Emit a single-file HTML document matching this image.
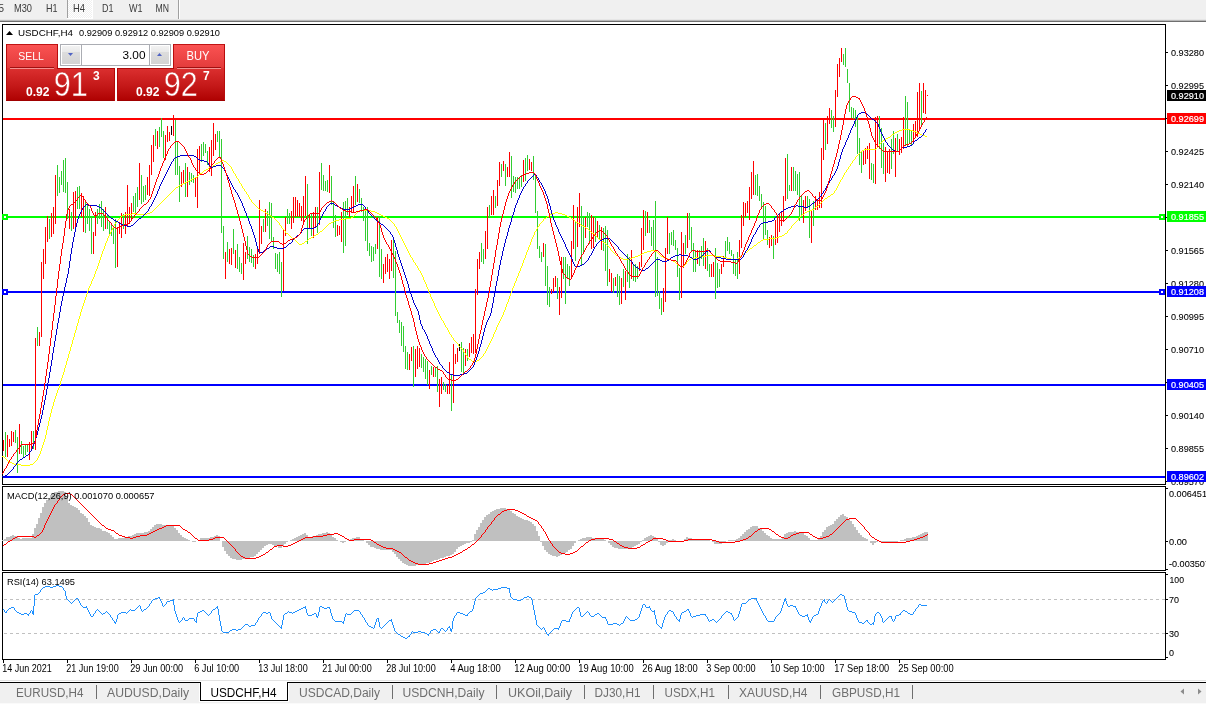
<!DOCTYPE html>
<html lang="en"><head><meta charset="utf-8"><title>USDCHF,H4</title>
<style>
html,body{margin:0;padding:0;background:#fff;}
body{width:1206px;height:704px;overflow:hidden;position:relative;font-family:"Liberation Sans",sans-serif;}
svg{position:absolute;left:0;top:0;display:block;}
text{font-family:"Liberation Sans",sans-serif;}
.t10{font-size:9.8px;fill:#000;}
.tb{font-size:10.4px;fill:#3a3a3a;}
.ax{font-size:9.4px;fill:#000;stroke:#000;stroke-width:0.08px;}
.axw{font-size:9.4px;fill:#fff;stroke:#fff;stroke-width:0.2px;}
.tab{font-size:12.5px;fill:#6e6e6e;}
.tabA{font-size:12.5px;fill:#000;}
</style></head><body>
<svg width="1206" height="704" viewBox="0 0 1206 704">
<defs>
<linearGradient id="gTab" x1="0" y1="0" x2="0" y2="1"><stop offset="0" stop-color="#fb5353"/><stop offset="1" stop-color="#e23a3a"/></linearGradient>
<linearGradient id="gLow" x1="0" y1="0" x2="0" y2="1"><stop offset="0" stop-color="#dc3030"/><stop offset="0.55" stop-color="#c41818"/><stop offset="1" stop-color="#ae0000"/></linearGradient>
<linearGradient id="gBtn" x1="0" y1="0" x2="0" y2="1"><stop offset="0" stop-color="#f2f2f2"/><stop offset="0.33" stop-color="#e9e9e9"/><stop offset="0.34" stop-color="#dddddd"/><stop offset="1" stop-color="#d3d3d3"/></linearGradient>
<pattern id="chk" width="2" height="2" patternUnits="userSpaceOnUse"><rect width="2" height="2" fill="#f0f0f0"/><rect width="1" height="1" fill="#fff"/><rect x="1" y="1" width="1" height="1" fill="#fff"/></pattern>
</defs>
<g shape-rendering="crispEdges">
<rect x="0" y="0" width="1206" height="20" fill="#f0f0f0"/>
<rect x="0" y="19" width="1206" height="1" fill="#e6e6e6"/>
<rect x="0" y="20" width="1206" height="1" fill="#b9b9b9"/>
<rect x="0" y="21" width="1206" height="1" fill="#6f6f6f"/>
<rect x="68" y="0" width="24" height="18" fill="url(#chk)"/>
<rect x="67" y="0" width="1" height="18" fill="#a0a0a0"/>
<rect x="92" y="0" width="1" height="19" fill="#fff"/>
<rect x="67" y="18" width="26" height="1" fill="#fff"/>
<rect x="178" y="0" width="1" height="19" fill="#a0a0a0"/>
<rect x="179" y="0" width="1" height="19" fill="#fff"/>
</g>
<text class="tb" x="-1.5" y="12" textLength="5.5" lengthAdjust="spacingAndGlyphs">5</text>
<text class="tb" x="14" y="12" textLength="18" lengthAdjust="spacingAndGlyphs">M30</text>
<text class="tb" x="46" y="12" textLength="11.5" lengthAdjust="spacingAndGlyphs">H1</text>
<text class="tb" x="73" y="12" textLength="12" lengthAdjust="spacingAndGlyphs">H4</text>
<text class="tb" x="102" y="12" textLength="11.5" lengthAdjust="spacingAndGlyphs">D1</text>
<text class="tb" x="129" y="12" textLength="13.5" lengthAdjust="spacingAndGlyphs">W1</text>
<text class="tb" x="155.5" y="12" textLength="13.5" lengthAdjust="spacingAndGlyphs">MN</text>
<g shape-rendering="crispEdges" fill="#000">
<rect x="2" y="24" width="1164" height="1"/>
<rect x="2" y="24" width="1" height="461"/>
<rect x="2" y="484" width="1164" height="1"/>
<rect x="1165" y="24" width="1" height="461"/>
<rect x="2" y="486" width="1164" height="1"/>
<rect x="2" y="486" width="1" height="85"/>
<rect x="2" y="570" width="1164" height="1"/>
<rect x="1165" y="486" width="1" height="85"/>
<rect x="2" y="572" width="1164" height="1"/>
<rect x="2" y="572" width="1" height="88"/>
<rect x="2" y="659" width="1164" height="1"/>
<rect x="1165" y="572" width="1" height="88"/>
<rect x="1166" y="52" width="2" height="1"/>
<rect x="1166" y="85" width="2" height="1"/>
<rect x="1166" y="118" width="2" height="1"/>
<rect x="1166" y="151" width="2" height="1"/>
<rect x="1166" y="184" width="2" height="1"/>
<rect x="1166" y="217" width="2" height="1"/>
<rect x="1166" y="250" width="2" height="1"/>
<rect x="1166" y="283" width="2" height="1"/>
<rect x="1166" y="316" width="2" height="1"/>
<rect x="1166" y="349" width="2" height="1"/>
<rect x="1166" y="382" width="2" height="1"/>
<rect x="1166" y="415" width="2" height="1"/>
<rect x="1166" y="448" width="2" height="1"/>
<rect x="1166" y="481" width="2" height="1"/>
<rect x="1166" y="488" width="2" height="1"/>
<rect x="1166" y="541" width="2" height="1"/>
<rect x="1166" y="569" width="2" height="1"/>
<rect x="1166" y="574" width="2" height="1"/>
<rect x="1166" y="599" width="2" height="1"/>
<rect x="1166" y="633" width="2" height="1"/>
<rect x="1166" y="657" width="2" height="1"/>
<rect x="3" y="660" width="1" height="3"/>
<rect x="67" y="660" width="1" height="3"/>
<rect x="131" y="660" width="1" height="3"/>
<rect x="195" y="660" width="1" height="3"/>
<rect x="259" y="660" width="1" height="3"/>
<rect x="323" y="660" width="1" height="3"/>
<rect x="387" y="660" width="1" height="3"/>
<rect x="451" y="660" width="1" height="3"/>
<rect x="515" y="660" width="1" height="3"/>
<rect x="579" y="660" width="1" height="3"/>
<rect x="643" y="660" width="1" height="3"/>
<rect x="707" y="660" width="1" height="3"/>
<rect x="771" y="660" width="1" height="3"/>
<rect x="835" y="660" width="1" height="3"/>
<rect x="899" y="660" width="1" height="3"/>
</g>
<g shape-rendering="crispEdges" stroke="#c0c0c0" stroke-width="1" stroke-dasharray="3 3">
<line x1="4" y1="599.5" x2="1165" y2="599.5"/><line x1="4" y1="633.5" x2="1165" y2="633.5"/>
</g>
<g shape-rendering="crispEdges">
<rect x="3" y="118" width="1162" height="2" fill="#ff0000"/>
<rect x="3" y="216" width="1162" height="2" fill="#00ff00"/>
<rect x="2" y="214" width="6" height="6" fill="#00ff00"/><rect x="4" y="216" width="2" height="2" fill="#fff"/>
<rect x="1159" y="214" width="6" height="6" fill="#00ff00"/><rect x="1161" y="216" width="2" height="2" fill="#fff"/>
<rect x="3" y="291" width="1162" height="2" fill="#0000ff"/>
<rect x="2" y="289" width="6" height="6" fill="#0000ff"/><rect x="4" y="291" width="2" height="2" fill="#fff"/>
<rect x="1159" y="289" width="6" height="6" fill="#0000ff"/><rect x="1161" y="291" width="2" height="2" fill="#fff"/>
<rect x="3" y="384" width="1162" height="2" fill="#0000ff"/>
<rect x="3" y="476" width="1162" height="2" fill="#0000ff"/>
</g>
<g shape-rendering="crispEdges" fill="none" stroke-width="1">
<path stroke="#ff0000" d="M3.5 440V451M7.5 435V457M9.5 439V447M11.5 431V446M13.5 432V442M19.5 424V454M29.5 442V460M31.5 431V449M35.5 338V450M39.5 332V346M41.5 262V337M43.5 249V279M45.5 227V264M47.5 216V242M51.5 213V237M53.5 207V234M55.5 175V224M69.5 209V229M73.5 192V229M75.5 191V227M81.5 193V217M83.5 196V232M93.5 232V254M95.5 212V236M105.5 207V229M117.5 228V267M119.5 222V234M121.5 213V238M125.5 212V234M127.5 185V226M129.5 207V224M131.5 203V219M139.5 163V200M147.5 177V195M149.5 165V196M151.5 145V175M153.5 135V162M157.5 131V149M165.5 135V160M167.5 126V142M169.5 132V141M173.5 115V136M181.5 172V187M183.5 170V183M187.5 167V197M195.5 177V197M197.5 149V208M199.5 146V175M209.5 147V172M211.5 140V176M213.5 123V156M215.5 134V150M225.5 252V279M229.5 249V264M231.5 248V265M235.5 250V268M243.5 243V280M245.5 252V264M255.5 254V269M257.5 249V264M259.5 200V254M261.5 226V244M265.5 209V232M283.5 229V291M285.5 217V236M291.5 211V229M293.5 197V223M295.5 197V217M297.5 200V217M299.5 203V217M301.5 206V221M303.5 196V225M305.5 176V216M309.5 215V228M313.5 212V238M315.5 207V227M319.5 172V225M329.5 165V193M337.5 225V236M339.5 226V235M341.5 212V242M349.5 207V217M351.5 196V212M353.5 186V213M357.5 184V202M377.5 217V249M383.5 264V283M385.5 257V274M387.5 254V272M389.5 259V279M391.5 240V271M409.5 354V370M411.5 347V361M415.5 349V377M417.5 346V369M419.5 348V367M429.5 370V389M433.5 367V377M439.5 379V407M441.5 377V394M447.5 385V394M449.5 362V394M453.5 344V403M455.5 354V364M457.5 348V362M465.5 349V366M469.5 343V357M471.5 337V353M473.5 334V354M475.5 289V353M477.5 259V295M479.5 252V269M485.5 231V259M487.5 207V249M491.5 196V215M493.5 190V215M497.5 180V206M499.5 162V186M503.5 161V171M507.5 167V177M509.5 152V177M523.5 160V182M529.5 159V170M531.5 162V171M543.5 243V257M551.5 289V294M553.5 278V292M555.5 276V287M559.5 287V315M561.5 257V298M571.5 241V279M573.5 205V249M577.5 207V247M579.5 193V227M585.5 217V238M591.5 215V249M593.5 217V248M597.5 221V238M601.5 227V250M609.5 269V282M611.5 273V292M615.5 277V286M621.5 278V304M625.5 271V300M631.5 250V279M639.5 262V271M641.5 228V267M643.5 210V250M647.5 212V233M663.5 288V312M665.5 248V302M667.5 217V254M681.5 232V298M683.5 243V268M687.5 213V248M697.5 250V264M705.5 241V269M711.5 264V277M713.5 262V277M721.5 264V274M723.5 256V267M739.5 240V274M741.5 215V248M743.5 202V226M745.5 203V217M747.5 201V213M749.5 187V220M751.5 172V199M753.5 161V195M769.5 237V248M771.5 235V246M775.5 220V245M777.5 217V243M779.5 213V232M781.5 212V226M783.5 196V222M785.5 158V201M791.5 167V191M803.5 200V223M805.5 196V211M811.5 210V243M815.5 196V210M817.5 199V210M819.5 192V208M821.5 148V208M823.5 119V160M827.5 116V144M829.5 108V124M835.5 90V127M837.5 64V97M839.5 58V77M841.5 48V62M863.5 150V165M865.5 148V164M867.5 146V159M869.5 143V179M875.5 117V184M877.5 116V147M885.5 147V182M887.5 152V173M889.5 149V174M895.5 138V177M899.5 139V155M901.5 137V153M903.5 117V149M913.5 124V142M915.5 121V138M917.5 92V137M919.5 83V129M923.5 83V113M925.5 90V114M927.5 95V96"/>
<path stroke="#32cd32" d="M5.5 432V457M15.5 430V443M17.5 437V473M21.5 441V454M23.5 446V457M25.5 445V455M27.5 445V452M33.5 431V449M37.5 327V346M49.5 219V239M57.5 165V196M59.5 177V193M61.5 171V185M63.5 160V192M65.5 158V193M67.5 182V219M71.5 212V231M77.5 187V209M79.5 186V209M85.5 200V233M87.5 204V224M89.5 209V231M91.5 217V254M97.5 209V224M99.5 204V219M101.5 201V227M103.5 209V231M107.5 214V229M109.5 222V234M111.5 224V236M113.5 226V244M115.5 219V268M123.5 214V229M133.5 196V212M135.5 193V213M137.5 187V207M141.5 175V204M143.5 186V202M145.5 185V200M155.5 129V146M159.5 127V147M161.5 118V137M163.5 131V158M175.5 120V175M177.5 141V175M179.5 166V202M185.5 163V197M189.5 172V185M191.5 173V182M193.5 175V183M201.5 144V162M203.5 142V156M205.5 144V153M207.5 151V165M217.5 131V142M219.5 131V158M221.5 139V233M223.5 226V259M227.5 242V262M233.5 229V254M237.5 244V269M239.5 257V272M241.5 263V274M247.5 236V259M249.5 247V262M251.5 249V263M253.5 255V267M263.5 219V232M267.5 211V226M269.5 202V239M271.5 203V242M273.5 237V249M275.5 253V269M277.5 254V272M279.5 252V274M281.5 262V297M287.5 209V224M289.5 213V224M307.5 184V244M311.5 213V236M317.5 207V233M321.5 163V190M323.5 175V191M325.5 181V191M327.5 180V192M331.5 176V205M333.5 201V228M335.5 215V237M343.5 202V253M345.5 201V246M347.5 198V215M355.5 176V205M359.5 189V203M361.5 198V212M363.5 207V221M365.5 208V241M367.5 207V251M369.5 243V256M371.5 246V262M373.5 247V261M375.5 244V254M379.5 216V277M381.5 249V279M393.5 240V278M395.5 251V316M397.5 312V323M399.5 320V333M401.5 322V346M403.5 326V352M405.5 346V369M407.5 352V370M413.5 346V387M421.5 354V368M423.5 357V372M425.5 359V379M427.5 361V385M431.5 366V375M435.5 368V377M437.5 366V392M443.5 382V390M445.5 384V392M451.5 374V411M461.5 342V372M463.5 348V373M467.5 349V361M481.5 243V262M483.5 249V264M489.5 205V217M495.5 196V208M501.5 164V177M505.5 164V186M511.5 156V198M513.5 176V192M515.5 177V193M517.5 177V189M519.5 177V189M521.5 175V187M525.5 158V181M527.5 155V171M533.5 156V180M535.5 175V213M537.5 211V249M539.5 246V258M541.5 252V262M545.5 244V286M547.5 266V305M549.5 287V307M557.5 278V299M563.5 257V279M565.5 257V304M567.5 264V279M569.5 266V286M575.5 222V261M581.5 206V266M583.5 218V253M587.5 212V227M589.5 213V244M595.5 217V242M599.5 225V240M603.5 228V251M605.5 226V271M607.5 230V286M613.5 278V293M617.5 274V297M619.5 276V305M623.5 269V287M627.5 254V282M629.5 257V288M633.5 264V281M635.5 264V282M637.5 266V279M645.5 211V236M649.5 220V233M651.5 227V246M653.5 220V250M655.5 201V297M657.5 257V296M659.5 291V309M661.5 298V315M669.5 233V254M671.5 232V245M673.5 230V246M675.5 240V250M677.5 248V277M679.5 268V300M685.5 235V254M689.5 213V240M691.5 227V251M693.5 243V272M695.5 250V272M699.5 250V266M701.5 246V259M703.5 238V266M707.5 248V271M709.5 264V277M715.5 248V299M717.5 263V288M719.5 269V287M725.5 241V258M727.5 237V251M729.5 242V254M731.5 250V256M733.5 254V274M735.5 259V276M737.5 252V279M755.5 175V195M757.5 174V196M759.5 186V201M761.5 194V208M763.5 202V240M765.5 206V235M767.5 230V245M773.5 236V259M787.5 154V199M789.5 185V191M793.5 167V191M795.5 171V191M797.5 174V195M799.5 172V221M801.5 196V217M807.5 196V208M809.5 199V238M813.5 201V226M825.5 123V150M831.5 110V128M833.5 116V132M843.5 54V65M845.5 48V67M847.5 69V83M849.5 83V112M851.5 107V118M853.5 108V119M855.5 110V127M857.5 116V154M859.5 138V165M861.5 152V173M871.5 163V180M873.5 164V183M879.5 116V149M881.5 128V168M883.5 143V174M891.5 139V169M893.5 131V154M897.5 134V152M905.5 96V146M907.5 102V147M909.5 129V144M911.5 131V146M921.5 91V126"/>
<path stroke="#000000" d="M171.5 126V135M459.5 344V351"/>
</g>
<g shape-rendering="crispEdges" fill="none" stroke-width="1">
<path stroke="#ffff00" d="M2 456.5H4M4.5 457V458M5.5 458V459M6.5 459V460M7.5 460V461M8.5 461V462M9 462.5H12M12 463.5H14M14 464.5H21M21 465.5H30M30 464.5H33M33.5 463V464M34.5 462V463M35.5 461V462M36.5 460V461M37.5 458V460M38.5 456V458M39.5 454V456M40.5 451V454M41.5 448V451M42.5 445V448M43.5 442V445M44.5 439V442M45.5 435V439M46.5 430V435M47.5 426V430M48.5 421V426M49.5 417V421M50.5 413V417M51.5 409V413M52.5 406V409M53.5 402V406M54.5 399V402M55.5 396V399M56.5 393V396M57.5 390V393M58.5 388V390M59.5 385V388M60.5 381V385M61.5 378V381M62.5 375V378M63.5 372V375M64.5 368V372M65.5 365V368M66.5 361V365M67.5 358V361M68.5 354V358M69.5 351V354M70.5 347V351M71.5 344V347M72.5 340V344M73.5 337V340M74.5 333V337M75.5 330V333M76.5 326V330M77.5 323V326M78.5 319V323M79.5 316V319M80.5 312V316M81.5 309V312M82.5 306V309M83.5 303V306M84.5 300V303M85.5 297V300M86.5 294V297M87.5 291V294M88.5 288V291M89.5 286V288M90.5 284V286M91.5 281V284M92.5 279V281M93.5 277V279M94.5 274V277M95.5 271V274M96.5 269V271M97.5 266V269M98.5 263V266M99.5 260V263M100.5 257V260M101.5 254V257M102.5 251V254M103.5 249V251M104.5 246V249M105.5 243V246M106.5 241V243M107.5 238V241M108.5 236V238M109.5 234V236M110.5 232V234M111.5 230V232M112.5 228V230M113.5 226V228M114.5 224V226M115.5 223V224M116.5 221V223M117.5 220V221M118.5 219V220M119.5 218V219M120.5 217V218M121.5 216V217M122 215.5H125M125 214.5H132M132 213.5H136M136 214.5H147M147 213.5H150M150 212.5H152M152.5 211V212M153.5 210V211M154.5 209V210M155.5 208V209M156.5 207V208M157.5 206V207M158.5 205V206M159.5 204V205M160.5 203V204M161.5 202V203M162.5 201V202M163.5 200V201M164.5 199V200M165.5 198V199M166.5 197V198M167.5 196V197M168.5 195V196M169.5 194V195M170.5 193V194M171.5 192V193M172.5 191V192M173.5 190V191M174.5 189V190M175.5 188V189M176 187.5H178M178.5 186V187M179 185.5H181M181 184.5H183M183 183.5H185M185 182.5H187M187 181.5H189M189 180.5H191M191 179.5H193M193 178.5H195M195 177.5H197M197.5 176V177M198.5 175V176M199.5 174V175M200 173.5H202M202.5 172V173M203.5 171V172M204 170.5H206M206 169.5H208M208.5 168V169M209 167.5H211M211 166.5H213M213 165.5H215M215.5 164V165M216 163.5H218M218 162.5H220M220 161.5H222M222 160.5H224M224 161.5H226M226.5 162V163M227.5 163V164M228.5 164V165M229.5 165V166M230.5 166V167M231.5 167V169M232.5 169V171M233.5 171V173M234.5 173V174M235.5 174V176M236.5 176V178M237.5 178V179M238.5 179V181M239.5 181V183M240.5 183V184M241.5 184V186M242.5 186V188M243.5 188V189M244.5 189V191M245.5 191V192M246.5 192V194M247.5 194V195M248.5 195V197M249.5 197V199M250.5 199V200M251.5 200V202M252.5 202V203M253.5 203V204M254.5 204V205M255.5 205V206M256.5 206V207M257.5 207V208M258.5 208V209M259 209.5H261M261 210.5H263M263 211.5H265M265.5 212V213M266 213.5H268M268.5 214V215M269 215.5H271M271.5 216V217M272 217.5H274M274.5 218V219M275.5 219V220M276.5 220V221M277.5 221V222M278.5 222V223M279.5 223V225M280.5 225V226M281.5 226V228M282.5 228V229M283.5 229V230M284.5 230V231M285.5 231V233M286 233.5H288M288.5 234V235M289.5 235V236M290.5 236V237M291.5 237V238M292 238.5H294M294.5 239V240M295.5 240V241M296.5 241V242M297.5 242V243M298.5 243V244M299 244.5H302M302 243.5H304M304.5 242V243M305 241.5H307M307.5 240V241M308.5 239V240M309 238.5H311M311 237.5H313M313.5 236V237M314 235.5H316M316 234.5H318M318.5 233V234M319.5 232V233M320 231.5H322M322.5 230V231M323.5 229V230M324.5 228V229M325.5 227V228M326.5 226V227M327.5 225V226M328.5 224V225M329 223.5H331M331 222.5H333M333 221.5H335M335 220.5H339M339 219.5H345M345 218.5H351M351 217.5H353M353.5 216V217M354.5 215V216M355.5 214V215M356.5 213V214M357.5 212V213M358.5 211V212M359 210.5H371M371 211.5H375M375 212.5H377M377 213.5H379M379 214.5H381M381 215.5H383M383 216.5H385M385 217.5H387M387 218.5H389M389.5 219V220M390.5 220V221M391.5 221V222M392.5 222V223M393.5 223V224M394.5 224V226M395.5 226V227M396.5 227V229M397.5 229V231M398.5 231V233M399.5 233V235M400.5 235V237M401.5 237V239M402.5 239V241M403.5 241V243M404.5 243V245M405.5 245V247M406.5 247V249M407.5 249V251M408.5 251V253M409.5 253V255M410.5 255V257M411.5 257V258M412.5 258V260M413.5 260V262M414.5 262V263M415.5 263V265M416.5 265V266M417.5 266V268M418.5 268V270M419.5 270V271M420.5 271V273M421.5 273V275M422.5 275V277M423.5 277V280M424.5 280V282M425.5 282V284M426.5 284V287M427.5 287V289M428.5 289V292M429.5 292V294M430.5 294V297M431.5 297V299M432.5 299V301M433.5 301V303M434.5 303V306M435.5 306V308M436.5 308V310M437.5 310V312M438.5 312V314M439.5 314V316M440.5 316V318M441.5 318V320M442.5 320V321M443.5 321V323M444.5 323V325M445.5 325V327M446.5 327V328M447.5 328V330M448.5 330V332M449.5 332V334M450.5 334V335M451.5 335V337M452.5 337V338M453.5 338V340M454.5 340V341M455.5 341V342M456.5 342V343M457.5 343V344M458.5 344V346M459.5 346V347M460.5 347V348M461.5 348V349M462.5 349V350M463.5 350V352M464.5 352V353M465.5 353V355M466.5 355V356M467.5 356V358M468.5 358V359M469 359.5H471M471.5 360V361M472 361.5H477M477 360.5H479M479.5 359V360M480.5 358V359M481.5 357V358M482.5 356V357M483.5 354V356M484.5 353V354M485.5 351V353M486.5 349V351M487.5 347V349M488.5 345V347M489.5 343V345M490.5 341V343M491.5 339V341M492.5 337V339M493.5 334V337M494.5 332V334M495.5 330V332M496.5 327V330M497.5 325V327M498.5 323V325M499.5 321V323M500.5 319V321M501.5 317V319M502.5 315V317M503.5 312V315M504.5 310V312M505.5 307V310M506.5 304V307M507.5 302V304M508.5 299V302M509.5 296V299M510.5 293V296M511.5 291V293M512.5 288V291M513.5 286V288M514.5 283V286M515.5 281V283M516.5 278V281M517.5 276V278M518.5 273V276M519.5 271V273M520.5 268V271M521.5 266V268M522.5 263V266M523.5 260V263M524.5 258V260M525.5 255V258M526.5 252V255M527.5 250V252M528.5 247V250M529.5 245V247M530.5 242V245M531.5 239V242M532.5 237V239M533.5 235V237M534.5 232V235M535.5 231V232M536.5 229V231M537.5 227V229M538.5 226V227M539.5 224V226M540.5 223V224M541.5 222V223M542.5 221V222M543.5 219V221M544 218.5H546M546.5 217V218M547 216.5H549M549.5 215V216M550 214.5H552M552 213.5H555M555 212.5H558M558 213.5H562M562 214.5H565M565 215.5H567M567 216.5H569M569 217.5H571M571.5 218V219M572 219.5H574M574.5 220V221M575.5 221V222M576 222.5H578M578 223.5H580M580.5 224V225M581 225.5H583M583 226.5H585M585.5 227V228M586 228.5H588M588.5 229V230M589.5 230V231M590.5 231V232M591.5 232V233M592 233.5H594M594.5 234V235M595.5 235V236M596.5 236V237M597.5 237V238M598.5 238V239M599 239.5H601M601.5 240V241M602.5 241V242M603 242.5H605M605.5 243V244M606.5 244V245M607.5 245V246M608.5 246V247M609.5 247V248M610.5 248V250M611.5 250V251M612.5 251V252M613.5 252V253M614.5 253V254M615.5 254V255M616 255.5H618M618.5 256V257M619 257.5H621M621 258.5H623M623 259.5H629M629 258.5H632M632 257.5H635M635 256.5H638M638 255.5H640M640 254.5H642M642 253.5H644M644 252.5H647M647 251.5H651M651 250.5H655M655 251.5H657M657.5 252V253M658.5 253V254M659.5 254V255M660.5 255V256M661 256.5H663M663 257.5H665M665 258.5H668M668 259.5H671M671 260.5H673M673 261.5H675M675.5 262V263M676.5 263V264M677.5 264V265M678 265.5H680M680 266.5H684M684.5 265V266M685.5 264V265M686.5 262V264M687.5 261V262M688.5 260V261M689 259.5H691M691 258.5H695M695 257.5H700M700 256.5H706M706 255.5H715M715 256.5H723M723 257.5H727M727 258.5H731M731 259.5H737M737 258.5H739M739.5 257V258M740.5 256V257M741.5 255V256M742 254.5H744M744.5 253V254M745 252.5H747M747.5 251V252M748.5 250V251M749.5 249V250M750 248.5H752M752.5 247V248M753.5 246V247M754 245.5H756M756.5 244V245M757.5 243V244M758 242.5H760M760.5 241V242M761 240.5H763M763 239.5H769M769 238.5H776M776 237.5H779M779 236.5H782M782 235.5H784M784.5 234V235M785 233.5H787M787.5 231V233M788.5 230V231M789.5 229V230M790.5 228V229M791.5 226V228M792.5 225V226M793.5 224V225M794.5 223V224M795.5 222V223M796.5 221V222M797.5 220V221M798.5 218V220M799.5 217V218M800.5 216V217M801.5 215V216M802 214.5H804M804.5 213V214M805 212.5H807M807 211.5H809M809 210.5H812M812 209.5H814M814.5 208V209M815.5 207V208M816 206.5H818M818.5 205V206M819.5 204V205M820.5 203V204M821.5 202V203M822.5 201V202M823.5 200V201M824.5 199V200M825 198.5H827M827.5 197V198M828 196.5H830M830.5 195V196M831 194.5H833M833.5 193V194M834.5 191V193M835.5 190V191M836.5 188V190M837.5 186V188M838.5 184V186M839.5 182V184M840.5 180V182M841.5 179V180M842.5 177V179M843.5 175V177M844.5 173V175M845.5 172V173M846.5 170V172M847.5 169V170M848.5 167V169M849.5 166V167M850.5 164V166M851.5 163V164M852.5 161V163M853.5 160V161M854.5 159V160M855.5 157V159M856.5 156V157M857.5 155V156M858.5 154V155M859.5 153V154M860.5 152V153M861.5 151V152M862 150.5H864M864 149.5H876M876.5 148V149M877.5 147V148M878.5 146V147M879.5 144V146M880.5 143V144M881.5 142V143M882.5 141V142M883 140.5H885M885.5 139V140M886 138.5H888M888 137.5H890M890.5 136V137M891.5 135V136M892 134.5H894M894.5 133V134M895 132.5H897M897 131.5H899M899 130.5H902M902 129.5H910M910 130.5H913M913 131.5H916M916 132.5H918M918 133.5H920M920 134.5H922M922 135.5H925M925 136.5H927"/>
<path stroke="#0000cd" d="M2 476.5H5M5 475.5H7M7.5 474V475M8.5 473V474M9.5 472V473M10.5 471V472M11.5 470V471M12.5 469V470M13.5 467V469M14.5 466V467M15.5 465V466M16.5 463V465M17.5 462V463M18.5 461V462M19.5 460V461M20 459.5H22M22.5 458V459M23 457.5H25M25.5 456V457M26 455.5H28M28.5 454V455M29.5 452V454M30.5 451V452M31.5 449V451M32.5 446V449M33.5 444V446M34.5 441V444M35.5 438V441M36.5 435V438M37.5 431V435M38.5 427V431M39.5 423V427M40.5 419V423M41.5 415V419M42.5 410V415M43.5 405V410M44.5 400V405M45.5 395V400M46.5 389V395M47.5 383V389M48.5 378V383M49.5 372V378M50.5 366V372M51.5 360V366M52.5 353V360M53.5 347V353M54.5 341V347M55.5 335V341M56.5 329V335M57.5 323V329M58.5 318V323M59.5 312V318M60.5 306V312M61.5 301V306M62.5 296V301M63.5 291V296M64.5 287V291M65.5 283V287M66.5 278V283M67.5 274V278M68.5 268V274M69.5 261V268M70.5 254V261M71.5 248V254M72.5 242V248M73.5 237V242M74.5 232V237M75.5 227V232M76.5 223V227M77.5 219V223M78.5 216V219M79.5 214V216M80.5 212V214M81.5 210V212M82.5 208V210M83.5 207V208M84.5 206V207M85.5 205V206M86 204.5H88M88 205.5H97M97 206.5H99M99 207.5H101M101.5 208V209M102.5 209V210M103.5 210V211M104.5 211V212M105.5 212V213M106.5 213V214M107.5 214V215M108.5 215V216M109.5 216V217M110.5 217V218M111 218.5H113M113.5 219V220M114 220.5H116M116 221.5H118M118.5 222V223M119 223.5H121M121 224.5H123M123 225.5H127M127 226.5H131M131 225.5H133M133.5 224V225M134.5 223V224M135.5 222V223M136.5 221V222M137.5 220V221M138.5 219V220M139 218.5H141M141.5 217V218M142.5 216V217M143.5 215V216M144.5 214V215M145.5 213V214M146.5 212V213M147.5 211V212M148.5 209V211M149.5 207V209M150.5 206V207M151.5 204V206M152.5 202V204M153.5 200V202M154.5 198V200M155.5 196V198M156.5 194V196M157.5 191V194M158.5 189V191M159.5 186V189M160.5 184V186M161.5 182V184M162.5 180V182M163.5 178V180M164.5 176V178M165.5 174V176M166.5 172V174M167.5 170V172M168.5 168V170M169.5 166V168M170.5 164V166M171.5 162V164M172.5 161V162M173.5 159V161M174.5 158V159M175 157.5H177M177 156.5H180M180 155.5H194M194 156.5H196M196.5 157V158M197.5 158V159M198 159.5H200M200 160.5H204M204 161.5H207M207.5 162V163M208.5 163V165M209.5 165V166M210.5 166V167M211 167.5H213M213 166.5H216M216 165.5H221M221.5 166V167M222.5 167V168M223.5 168V169M224.5 169V171M225.5 171V173M226.5 173V175M227.5 175V177M228.5 177V179M229.5 179V181M230.5 181V183M231.5 183V185M232.5 185V187M233.5 187V189M234.5 189V190M235.5 190V192M236.5 192V193M237.5 193V195M238.5 195V197M239.5 197V199M240.5 199V201M241.5 201V203M242.5 203V206M243.5 206V208M244.5 208V211M245.5 211V213M246.5 213V216M247.5 216V218M248.5 218V221M249.5 221V224M250.5 224V226M251.5 226V229M252.5 229V232M253.5 232V235M254.5 235V238M255.5 238V242M256.5 242V246M257.5 246V249M258.5 249V252M259 252.5H263M263.5 251V252M264 250.5H266M266.5 249V250M267 248.5H269M269.5 247V248M270 246.5H274M274 247.5H277M277 248.5H284M284 247.5H286M286.5 246V247M287.5 245V246M288.5 244V245M289 243.5H291M291.5 242V243M292.5 240V242M293.5 239V240M294.5 238V239M295.5 237V238M296.5 236V237M297 235.5H299M299.5 234V235M300.5 233V234M301.5 231V233M302.5 230V231M303.5 229V230M304 228.5H314M314 227.5H316M316.5 226V227M317.5 224V226M318.5 223V224M319.5 220V223M320.5 218V220M321.5 216V218M322.5 214V216M323.5 212V214M324.5 211V212M325.5 209V211M326.5 207V209M327.5 206V207M328.5 205V206M329.5 204V205M330 203.5H334M334.5 204V205M335 205.5H337M337 206.5H339M339 207.5H341M341 208.5H343M343 209.5H350M350 208.5H352M352 207.5H354M354 206.5H356M356 205.5H358M358 204.5H363M363.5 205V206M364.5 206V207M365.5 207V209M366.5 209V210M367.5 210V211M368.5 211V213M369.5 213V214M370.5 214V215M371.5 215V216M372.5 216V217M373.5 217V218M374.5 218V219M375.5 219V220M376.5 220V221M377.5 221V222M378 222.5H380M380.5 223V224M381 224.5H383M383.5 225V226M384.5 226V227M385.5 227V228M386.5 228V229M387.5 229V230M388.5 230V231M389.5 231V232M390.5 232V234M391.5 234V235M392.5 235V237M393.5 237V240M394.5 240V243M395.5 243V247M396.5 247V250M397.5 250V254M398.5 254V257M399.5 257V260M400.5 260V263M401.5 263V266M402.5 266V269M403.5 269V272M404.5 272V275M405.5 275V278M406.5 278V281M407.5 281V284M408.5 284V288M409.5 288V291M410.5 291V294M411.5 294V297M412.5 297V300M413.5 300V303M414.5 303V305M415.5 305V307M416.5 307V309M417.5 309V311M418.5 311V315M419.5 315V320M420.5 320V324M421.5 324V326M422.5 326V329M423.5 329V330M424.5 330V332M425.5 332V334M426.5 334V336M427.5 336V339M428.5 339V341M429.5 341V344M430.5 344V346M431.5 346V348M432.5 348V351M433.5 351V353M434.5 353V355M435.5 355V357M436.5 357V358M437.5 358V360M438.5 360V362M439.5 362V364M440.5 364V365M441.5 365V366M442.5 366V368M443.5 368V369M444.5 369V370M445.5 370V371M446.5 371V372M447 372.5H449M449.5 373V374M450 374.5H453M453 375.5H460M460 374.5H464M464 373.5H467M467.5 372V373M468.5 371V372M469.5 370V371M470.5 369V370M471.5 368V369M472.5 367V368M473.5 365V367M474.5 362V365M475.5 360V362M476.5 357V360M477.5 354V357M478.5 351V354M479.5 347V351M480.5 344V347M481.5 340V344M482.5 336V340M483.5 332V336M484.5 328V332M485.5 325V328M486.5 322V325M487.5 320V322M488.5 318V320M489.5 316V318M490.5 313V316M491.5 308V313M492.5 303V308M493.5 297V303M494.5 291V297M495.5 286V291M496.5 281V286M497.5 276V281M498.5 270V276M499.5 265V270M500.5 260V265M501.5 256V260M502.5 251V256M503.5 247V251M504.5 243V247M505.5 239V243M506.5 236V239M507.5 232V236M508.5 228V232M509.5 225V228M510.5 222V225M511.5 218V222M512.5 215V218M513.5 212V215M514.5 208V212M515.5 205V208M516.5 203V205M517.5 200V203M518.5 198V200M519.5 195V198M520.5 193V195M521.5 191V193M522.5 189V191M523.5 187V189M524.5 186V187M525.5 184V186M526.5 183V184M527.5 181V183M528.5 180V181M529.5 179V180M530.5 178V179M531.5 177V178M532.5 176V177M533.5 175V176M534.5 174V175M535.5 175V176M536.5 175V177M537.5 177V178M538.5 178V180M539.5 180V182M540.5 182V183M541.5 183V185M542.5 185V187M543.5 187V189M544.5 189V191M545.5 191V194M546.5 194V196M547.5 196V199M548.5 199V203M549.5 203V206M550.5 206V210M551.5 210V214M552.5 214V217M553.5 217V220M554.5 220V222M555.5 222V225M556.5 225V227M557.5 227V229M558.5 229V232M559.5 232V234M560.5 234V236M561.5 236V238M562.5 238V240M563.5 240V242M564.5 242V244M565.5 244V247M566.5 247V249M567.5 249V251M568.5 251V253M569.5 253V255M570.5 255V257M571.5 257V259M572.5 259V262M573.5 262V264M574.5 264V266M575 266.5H580M580 265.5H582M582 264.5H584M584.5 263V264M585.5 262V263M586.5 261V262M587.5 260V261M588.5 258V260M589.5 256V258M590.5 255V256M591.5 253V255M592.5 251V253M593.5 249V251M594.5 247V249M595.5 246V247M596.5 244V246M597.5 243V244M598.5 242V243M599.5 241V242M600 240.5H602M602 239.5H604M604 238.5H610M610.5 239V240M611.5 240V241M612.5 241V242M613.5 242V243M614.5 243V244M615.5 244V245M616.5 245V246M617.5 246V247M618.5 247V249M619.5 249V250M620.5 250V251M621.5 251V252M622.5 252V253M623.5 253V254M624.5 254V255M625.5 255V256M626.5 256V257M627.5 257V258M628.5 258V259M629.5 259V260M630.5 260V261M631.5 261V262M632.5 262V264M633.5 264V265M634.5 265V266M635.5 266V267M636 267.5H638M638.5 268V269M639 269.5H641M641 270.5H645M645.5 269V270M646 268.5H648M648.5 267V268M649.5 266V267M650.5 265V266M651.5 264V265M652.5 263V264M653.5 262V263M654.5 261V262M655.5 260V261M656 259.5H660M660 260.5H662M662 261.5H667M667 260.5H669M669.5 259V260M670.5 258V259M671 257.5H673M673 256.5H675M675 255.5H679M679 254.5H681M681 255.5H688M688 256.5H690M690 257.5H692M692.5 258V259M693 259.5H697M697 258.5H699M699 257.5H701M701.5 256V257M702.5 255V256M703.5 254V255M704.5 253V254M705.5 252V253M706 251.5H708M708 250.5H710M710.5 251V253M711.5 253V254M712.5 254V255M713.5 255V256M714.5 256V257M715 257.5H721M721 258.5H726M726 259.5H741M741.5 258V259M742.5 257V258M743.5 255V257M744.5 253V255M745.5 251V253M746.5 250V251M747.5 248V250M748.5 246V248M749.5 244V246M750.5 242V244M751.5 239V242M752.5 237V239M753.5 235V237M754.5 234V235M755.5 232V234M756.5 230V232M757.5 228V230M758.5 227V228M759.5 225V227M760.5 224V225M761 223.5H763M763 222.5H768M768 221.5H772M772 220.5H774M774.5 218V220M775.5 217V218M776.5 216V217M777.5 215V216M778.5 214V215M779.5 213V214M780.5 212V213M781 211.5H783M783.5 210V211M784 209.5H786M786 208.5H788M788 207.5H791M791 206.5H796M796 205.5H798M798 206.5H804M804 207.5H808M808 206.5H810M810.5 205V206M811.5 204V205M812 203.5H814M814.5 202V203M815.5 201V202M816.5 200V201M817.5 199V200M818.5 198V199M819.5 197V198M820.5 196V197M821.5 194V196M822.5 193V194M823.5 191V193M824.5 190V191M825.5 188V190M826.5 186V188M827.5 184V186M828.5 183V184M829.5 181V183M830.5 180V181M831.5 178V180M832.5 176V178M833.5 175V176M834.5 173V175M835.5 171V173M836.5 169V171M837.5 166V169M838.5 162V166M839.5 159V162M840.5 155V159M841.5 152V155M842.5 149V152M843.5 147V149M844.5 145V147M845.5 142V145M846.5 140V142M847.5 138V140M848.5 135V138M849.5 133V135M850.5 130V133M851.5 128V130M852.5 126V128M853.5 124V126M854.5 121V124M855.5 119V121M856.5 117V119M857.5 115V117M858.5 114V115M859 113.5H861M861 112.5H866M866.5 113V114M867.5 114V115M868.5 115V116M869.5 116V117M870.5 117V118M871.5 118V119M872 119.5H874M874.5 120V121M875.5 121V122M876.5 122V123M877.5 123V124M878.5 124V127M879.5 127V129M880.5 129V132M881.5 132V134M882.5 134V136M883.5 136V138M884.5 138V140M885.5 140V142M886.5 142V143M887.5 143V145M888.5 145V146M889.5 146V147M890.5 147V148M891.5 148V149M892.5 149V150M893 150.5H895M895 151.5H899M899.5 150V151M900.5 149V150M901.5 148V149M902 147.5H907M907 146.5H910M910 145.5H912M912.5 144V145M913.5 142V144M914.5 141V142M915 140.5H917M917.5 139V140M918.5 138V139M919 137.5H921M921.5 136V137M922.5 135V136M923.5 133V135M924.5 132V133M925.5 130V132M926.5 129V130"/>
<path stroke="#ff0000" d="M2.5 473V474M3.5 471V473M4.5 469V471M5.5 468V469M6.5 466V468M7.5 464V466M8.5 462V464M9.5 460V462M10.5 459V460M11.5 457V459M12.5 456V457M13.5 454V456M14.5 453V454M15.5 452V453M16.5 450V452M17.5 449V450M18.5 448V449M19.5 447V448M20.5 445V447M21 444.5H32M32 443.5H34M34.5 442V443M35.5 437V442M36.5 430V437M37.5 425V430M38.5 419V425M39.5 414V419M40.5 408V414M41.5 402V408M42.5 396V402M43.5 390V396M44.5 383V390M45.5 376V383M46.5 369V376M47.5 362V369M48.5 354V362M49.5 346V354M50.5 338V346M51.5 330V338M52.5 321V330M53.5 313V321M54.5 305V313M55.5 296V305M56.5 288V296M57.5 279V288M58.5 271V279M59.5 264V271M60.5 256V264M61.5 249V256M62.5 243V249M63.5 236V243M64.5 228V236M65.5 221V228M66.5 214V221M67.5 210V214M68.5 208V210M69.5 206V208M70.5 205V206M71 204.5H73M73.5 203V204M74.5 202V203M75.5 201V202M76.5 200V201M77.5 198V200M78.5 197V198M79.5 196V197M80 195.5H82M82.5 196V197M83.5 197V199M84.5 199V200M85.5 200V202M86.5 202V203M87.5 203V204M88.5 204V205M89.5 205V206M90.5 206V208M91.5 208V211M92.5 211V213M93.5 213V215M94 215.5H97M97.5 214V215M98 213.5H103M103.5 214V215M104.5 215V216M105.5 216V217M106.5 217V218M107.5 218V220M108.5 220V221M109.5 221V222M110.5 222V223M111.5 223V225M112.5 225V226M113.5 226V227M114 227.5H116M116.5 228V229M117 227.5H120M120 226.5H122M122 225.5H124M124 224.5H127M127 223.5H129M129.5 222V223M130.5 221V222M131.5 219V221M132.5 218V219M133.5 217V218M134.5 215V217M135.5 214V215M136.5 213V214M137.5 212V213M138.5 211V212M139.5 209V211M140.5 208V209M141.5 207V208M142.5 206V207M143.5 205V206M144 204.5H146M146.5 203V204M147.5 202V203M148.5 200V202M149.5 199V200M150.5 197V199M151.5 194V197M152.5 191V194M153.5 188V191M154.5 185V188M155.5 182V185M156.5 179V182M157.5 177V179M158.5 174V177M159.5 171V174M160.5 168V171M161.5 166V168M162.5 163V166M163.5 161V163M164.5 158V161M165.5 156V158M166.5 154V156M167.5 151V154M168.5 149V151M169.5 148V149M170.5 146V148M171.5 145V146M172.5 144V145M173.5 143V144M174.5 142V143M175 141.5H179M179.5 142V143M180.5 143V144M181.5 144V145M182.5 145V146M183.5 146V147M184.5 147V149M185.5 149V151M186.5 151V153M187.5 153V155M188.5 155V157M189.5 157V158M190.5 158V160M191.5 160V163M192.5 163V165M193.5 165V167M194.5 167V168M195.5 168V170M196.5 170V171M197.5 171V172M198.5 172V173M199.5 173V174M200 174.5H204M204 173.5H206M206.5 172V173M207.5 171V172M208.5 170V171M209.5 169V170M210.5 167V169M211.5 165V167M212.5 164V165M213.5 163V164M214.5 161V163M215.5 160V161M216.5 159V160M217.5 158V159M218 157.5H220M220.5 157V159M221.5 159V162M222.5 162V164M223.5 164V167M224.5 167V170M225.5 170V173M226.5 173V176M227.5 176V180M228.5 180V183M229.5 183V187M230.5 187V190M231.5 190V194M232.5 194V197M233.5 197V200M234.5 200V203M235.5 203V207M236.5 207V210M237.5 210V214M238.5 214V217M239.5 217V221M240.5 221V225M241.5 225V229M242.5 229V233M243.5 233V237M244.5 237V241M245.5 241V246M246.5 246V250M247.5 250V254M248.5 254V255M249.5 255V256M250 256.5H252M252 257.5H259M259.5 256V257M260.5 255V256M261.5 254V255M262.5 253V254M263.5 252V253M264.5 251V252M265.5 249V251M266.5 247V249M267.5 245V247M268.5 244V245M269.5 243V244M270.5 242V243M271 241.5H279M279.5 242V243M280 243.5H282M282 244.5H284M284 243.5H286M286.5 242V243M287.5 241V242M288 240.5H290M290 239.5H293M293 238.5H295M295 237.5H297M297.5 236V237M298.5 235V236M299.5 234V235M300.5 232V234M301.5 228V232M302.5 225V228M303.5 222V225M304.5 220V222M305.5 219V220M306.5 217V219M307.5 216V217M308.5 215V216M309.5 214V215M310 213.5H319M319.5 212V213M320.5 210V212M321.5 208V210M322.5 207V208M323.5 206V207M324.5 205V206M325.5 204V205M326.5 203V204M327 202.5H329M329 201.5H331M331.5 200V201M332 201.5H334M334.5 202V203M335.5 203V204M336.5 204V205M337.5 205V206M338.5 206V207M339.5 207V208M340 208.5H342M342.5 209V210M343 210.5H346M346 211.5H351M351 212.5H356M356 211.5H360M360 210.5H364M364 209.5H368M368.5 210V211M369.5 211V212M370.5 212V213M371.5 213V214M372.5 214V215M373.5 215V216M374.5 216V217M375.5 217V218M376.5 218V220M377.5 220V221M378.5 221V223M379.5 223V225M380.5 225V228M381.5 228V232M382.5 232V235M383.5 235V238M384.5 238V240M385.5 240V242M386.5 242V244M387.5 244V245M388.5 245V247M389.5 247V249M390.5 249V251M391.5 251V253M392.5 253V255M393.5 255V257M394.5 257V259M395.5 259V262M396.5 262V264M397.5 264V267M398.5 267V270M399.5 270V273M400.5 273V276M401.5 276V280M402.5 280V284M403.5 284V287M404.5 287V291M405.5 291V295M406.5 295V298M407.5 298V301M408.5 301V305M409.5 305V308M410.5 308V311M411.5 311V315M412.5 315V318M413.5 318V322M414.5 322V327M415.5 327V331M416.5 331V335M417.5 335V339M418.5 339V342M419.5 342V345M420.5 345V347M421.5 347V350M422.5 350V352M423.5 352V354M424.5 354V356M425.5 356V357M426.5 357V359M427.5 359V360M428.5 360V361M429.5 361V362M430.5 362V363M431.5 363V364M432.5 364V365M433.5 365V366M434.5 366V367M435 367.5H437M437.5 368V369M438 369.5H440M440 370.5H442M442.5 371V372M443.5 372V374M444.5 374V375M445.5 375V377M446.5 377V378M447.5 378V379M448 379.5H451M451 380.5H456M456 379.5H458M458.5 378V379M459.5 377V378M460.5 376V377M461.5 375V376M462.5 374V375M463.5 373V374M464.5 372V373M465 371.5H467M467.5 370V371M468.5 369V370M469.5 368V369M470.5 366V368M471.5 365V366M472.5 363V365M473.5 361V363M474.5 358V361M475.5 354V358M476.5 349V354M477.5 344V349M478.5 339V344M479.5 334V339M480.5 330V334M481.5 325V330M482.5 320V325M483.5 316V320M484.5 311V316M485.5 307V311M486.5 302V307M487.5 298V302M488.5 293V298M489.5 287V293M490.5 281V287M491.5 275V281M492.5 269V275M493.5 263V269M494.5 257V263M495.5 250V257M496.5 245V250M497.5 239V245M498.5 233V239M499.5 227V233M500.5 222V227M501.5 218V222M502.5 214V218M503.5 210V214M504.5 206V210M505.5 202V206M506.5 199V202M507.5 196V199M508.5 193V196M509.5 191V193M510.5 189V191M511.5 187V189M512.5 185V187M513.5 184V185M514.5 182V184M515.5 181V182M516.5 180V181M517.5 179V180M518.5 178V179M519.5 177V178M520 176.5H522M522 175.5H524M524 174.5H526M526 173.5H529M529 172.5H534M534.5 173V174M535.5 174V176M536.5 176V179M537.5 179V181M538.5 181V183M539.5 183V186M540.5 186V188M541.5 188V190M542.5 190V192M543.5 192V195M544.5 195V198M545.5 198V201M546.5 201V204M547.5 204V209M548.5 209V213M549.5 213V218M550.5 218V223M551.5 223V227M552.5 227V231M553.5 231V235M554.5 235V239M555.5 239V243M556.5 243V247M557.5 247V251M558.5 251V256M559.5 256V261M560.5 261V265M561.5 265V269M562.5 269V273M563.5 273V274M564.5 274V275M565.5 275V277M566.5 277V278M567 278.5H569M569 279.5H571M571.5 277V279M572.5 275V277M573.5 273V275M574.5 270V273M575.5 268V270M576.5 266V268M577.5 264V266M578.5 261V264M579.5 259V261M580.5 257V259M581.5 255V257M582.5 254V255M583.5 252V254M584.5 250V252M585.5 248V250M586.5 246V248M587.5 245V246M588.5 243V245M589.5 241V243M590.5 240V241M591.5 239V240M592.5 237V239M593.5 236V237M594.5 235V236M595.5 233V235M596.5 232V233M597 231.5H599M599 230.5H601M601 231.5H603M603.5 232V233M604.5 233V234M605.5 234V235M606.5 235V236M607.5 236V238M608.5 238V240M609.5 240V242M610.5 242V244M611.5 244V246M612.5 246V247M613.5 247V249M614.5 249V251M615.5 251V253M616.5 253V254M617.5 254V256M618.5 256V257M619.5 257V259M620.5 259V261M621.5 261V263M622.5 263V264M623.5 264V266M624.5 266V268M625.5 268V270M626.5 270V271M627.5 271V272M628.5 272V274M629.5 274V275M630.5 275V276M631 276.5H639M639.5 274V276M640.5 272V274M641.5 270V272M642.5 268V270M643.5 267V268M644.5 265V267M645.5 263V265M646.5 262V263M647.5 260V262M648.5 259V260M649.5 257V259M650.5 256V257M651.5 254V256M652.5 253V254M653.5 252V253M654.5 251V252M655 250.5H658M658.5 251V252M659.5 252V253M660.5 253V254M661.5 254V255M662.5 255V256M663.5 256V257M664.5 257V258M665 258.5H667M667 259.5H671M671 260.5H676M676.5 261V262M677.5 262V264M678.5 264V265M679.5 265V266M680 266.5H683M683.5 265V266M684.5 264V265M685.5 262V264M686.5 260V262M687.5 258V260M688.5 256V258M689.5 253V256M690.5 252V253M691.5 251V252M692 250.5H695M695 251.5H705M705 250.5H709M709.5 251V252M710.5 252V253M711.5 253V254M712.5 254V255M713.5 255V256M714.5 256V257M715.5 257V258M716.5 258V259M717.5 259V260M718 260.5H720M720 261.5H731M731 262.5H735M735 263.5H737M737.5 262V263M738.5 260V262M739.5 258V260M740.5 257V258M741.5 255V257M742.5 252V255M743.5 250V252M744.5 247V250M745.5 244V247M746.5 242V244M747.5 240V242M748.5 237V240M749.5 235V237M750.5 233V235M751.5 230V233M752.5 228V230M753.5 226V228M754.5 223V226M755.5 221V223M756.5 218V221M757.5 215V218M758.5 213V215M759.5 210V213M760.5 209V210M761.5 207V209M762.5 206V207M763.5 205V206M764 204.5H766M766 203.5H769M769.5 204V205M770.5 205V206M771.5 206V208M772.5 208V209M773.5 209V210M774.5 210V212M775.5 212V213M776.5 213V215M777.5 215V217M778.5 217V218M779.5 218V220M780 220.5H785M785.5 219V220M786.5 218V219M787.5 217V218M788.5 216V217M789.5 215V216M790.5 214V215M791.5 212V214M792.5 210V212M793.5 208V210M794.5 205V208M795.5 204V205M796.5 202V204M797.5 200V202M798.5 199V200M799.5 197V199M800.5 196V197M801.5 195V196M802.5 194V195M803.5 193V194M804.5 192V193M805 191.5H807M807 190.5H809M809.5 191V192M810.5 192V193M811.5 193V194M812.5 194V196M813.5 196V197M814.5 197V198M815.5 198V199M816.5 199V200M817 200.5H821M821.5 199V200M822.5 197V199M823.5 195V197M824.5 193V195M825.5 191V193M826.5 188V191M827.5 185V188M828.5 181V185M829.5 178V181M830.5 174V178M831.5 171V174M832.5 167V171M833.5 164V167M834.5 160V164M835.5 157V160M836.5 153V157M837.5 149V153M838.5 144V149M839.5 140V144M840.5 135V140M841.5 130V135M842.5 125V130M843.5 119V125M844.5 114V119M845.5 109V114M846.5 105V109M847.5 103V105M848.5 101V103M849.5 100V101M850.5 98V100M851.5 97V98M852 96.5H856M856 97.5H858M858.5 98V99M859.5 98V100M860.5 100V102M861.5 102V104M862.5 104V106M863.5 106V108M864.5 108V111M865.5 111V114M866.5 114V117M867.5 117V121M868.5 121V124M869.5 124V128M870.5 128V132M871.5 132V136M872.5 136V138M873.5 138V140M874.5 140V142M875.5 142V144M876.5 144V145M877.5 145V146M878.5 146V147M879.5 147V148M880.5 148V149M881.5 149V150M882.5 150V151M883 151.5H899M899.5 150V151M900.5 149V150M901.5 148V149M902.5 147V148M903.5 146V147M904 145.5H906M906 144.5H909M909 143.5H911M911.5 142V143M912.5 141V142M913.5 139V141M914.5 138V139M915.5 136V138M916.5 134V136M917.5 133V134M918.5 131V133M919.5 129V131M920.5 127V129M921.5 125V127M922.5 123V125M923.5 122V123M924.5 120V122M925.5 118V120M926.5 117V118"/>
</g>
<g shape-rendering="crispEdges" fill="none">
<path stroke="#c0c0c0" stroke-width="2" d="M3 540V541M5 539V541M7 537V541M9 537V541M11 536V541M13 535V541M15 536V541M17 536V541M19 538V541M21 539V541M23 538V541M25 538V541M27 538V541M29 538V541M31 538V541M33 534V541M35 528V541M37 524V541M39 518V541M41 513V541M43 507V541M45 503V541M47 500V541M49 498V541M51 495V541M53 493V541M55 492V541M57 492V541M59 491V541M61 491V541M63 491V541M65 492V541M67 496V541M69 503V541M71 505V541M73 506V541M75 507V541M77 508V541M79 510V541M81 513V541M83 514V541M85 516V541M87 518V541M89 522V541M91 525V541M93 526V541M95 527V541M97 528V541M99 528V541M101 529V541M103 531V541M105 531V541M107 532V541M109 533V541M111 535V541M113 537V541M115 539V541M117 539V541M119 538V541M121 538V541M123 538V541M125 537V541M127 537V541M129 536V541M131 536V541M133 535V541M135 534V541M137 533V541M139 533V541M141 533V541M143 533V541M145 532V541M147 532V541M149 531V541M151 529V541M153 527V541M155 525V541M157 524V541M159 524V541M161 524V541M163 525V541M165 525V541M167 525V541M169 526V541M171 526V541M173 526V541M175 528V541M177 530V541M179 533V541M181 535V541M183 537V541M185 538V541M187 539V541M189 540V541M193 541V542M195 541V542M199 540V541M201 538V541M203 538V541M205 538V541M207 538V541M209 538V541M211 537V541M213 537V541M215 536V541M217 535V541M219 536V541M223 541V547M225 541V551M227 541V554M229 541V556M231 541V558M233 541V559M235 541V559M237 541V560M239 541V560M241 541V560M243 541V559M245 541V559M247 541V558M249 541V558M251 541V557M253 541V557M255 541V556M257 541V554M259 541V552M261 541V550M263 541V548M265 541V546M267 541V545M269 541V544M271 541V544M273 541V545M275 541V546M277 541V546M279 541V548M281 541V548M283 541V546M285 541V544M287 541V542M291 540V541M293 539V541M295 538V541M297 537V541M299 536V541M301 535V541M303 534V541M305 533V541M307 535V541M309 537V541M311 537V541M313 536V541M315 536V541M317 535V541M319 534V541M321 534V541M323 533V541M325 533V541M327 532V541M329 533V541M331 535V541M333 537V541M335 538V541M337 540V541M341 541V542M343 541V543M345 541V542M349 540V541M351 539V541M353 538V541M355 538V541M357 537V541M359 537V541M361 539V541M363 540V541M367 541V543M369 541V545M371 541V547M373 541V547M375 541V548M377 541V549M379 541V549M381 541V550M383 541V550M385 541V550M387 541V550M389 541V550M391 541V550M393 541V552M395 541V554M397 541V557M399 541V559M401 541V561M403 541V563M405 541V564M407 541V565M409 541V566M411 541V566M413 541V566M415 541V566M417 541V565M419 541V565M421 541V564M423 541V564M425 541V564M427 541V563M429 541V563M431 541V562M433 541V561M435 541V560M437 541V560M439 541V559M441 541V558M443 541V558M445 541V557M447 541V556M449 541V556M451 541V555M453 541V554M455 541V552M457 541V549M459 541V547M461 541V546M463 541V545M465 541V544M467 541V543M469 541V543M471 541V542M473 540V541M475 534V541M477 530V541M479 527V541M481 523V541M483 520V541M485 517V541M487 515V541M489 514V541M491 512V541M493 511V541M495 510V541M497 509V541M499 509V541M501 508V541M503 508V541M505 508V541M507 509V541M509 510V541M511 511V541M513 513V541M515 514V541M517 516V541M519 517V541M521 518V541M523 519V541M525 520V541M527 520V541M529 521V541M531 522V541M533 524V541M535 526V541M537 531V541M539 536V541M541 541V542M543 541V546M545 541V550M547 541V552M549 541V554M551 541V555M553 541V556M555 541V556M557 541V557M559 541V556M561 541V555M563 541V554M565 541V553M567 541V552M569 541V550M571 541V549M573 541V546M575 541V543M579 540V541M581 539V541M583 538V541M585 538V541M587 537V541M589 537V541M591 537V541M593 538V541M595 538V541M597 538V541M599 538V541M601 539V541M603 539V541M605 540V541M609 541V543M611 541V545M613 541V547M615 541V548M617 541V548M619 541V549M621 541V549M623 541V549M625 541V549M627 541V549M629 541V548M631 541V548M633 541V547M635 541V546M637 541V545M639 541V544M641 541V542M643 540V541M645 538V541M647 537V541M649 536V541M651 535V541M653 536V541M655 537V541M657 539V541M659 541V542M661 541V545M663 541V546M665 541V545M667 541V543M669 540V541M671 540V541M673 539V541M675 540V541M685 539V541M687 537V541M689 538V541M691 538V541M693 539V541M695 539V541M697 539V541M699 539V541M701 539V541M703 539V541M705 540V541M707 540V541M709 540V541M713 541V542M715 541V544M717 541V544M719 541V544M721 541V544M723 541V543M725 541V542M729 540V541M731 540V541M733 540V541M735 540V541M737 539V541M739 538V541M741 536V541M743 534V541M745 532V541M747 530V541M749 529V541M751 527V541M753 526V541M755 526V541M757 526V541M759 528V541M761 529V541M763 531V541M765 533V541M767 535V541M769 536V541M771 538V541M773 539V541M775 539V541M777 539V541M779 539V541M781 539V541M783 537V541M785 534V541M787 533V541M789 532V541M791 532V541M793 532V541M795 531V541M797 532V541M799 532V541M801 533V541M803 533V541M805 535V541M807 536V541M809 538V541M811 540V541M813 540V541M815 540V541M817 540V541M819 539V541M821 536V541M823 532V541M825 530V541M827 527V541M829 526V541M831 525V541M833 524V541M835 521V541M837 519V541M839 517V541M841 515V541M843 514V541M845 516V541M847 517V541M849 519V541M851 521V541M853 524V541M855 527V541M857 530V541M859 533V541M861 535V541M863 537V541M865 538V541M867 539V541M871 541V543M873 541V545M875 541V543M877 541V542M881 541V542M883 541V542M885 541V543M887 541V543M889 541V543M891 541V543M893 541V542M895 541V542M897 541V542M901 540V541M903 540V541M905 539V541M907 538V541M909 538V541M911 538V541M913 537V541M915 537V541M917 536V541M919 535V541M921 534V541M923 533V541M925 532V541M927 532V541"/>
<path stroke="#ff0000" d="M3.5 545V546M4 544.5H6M6.5 543V544M7.5 542V543M8 541.5H10M10 540.5H12M12.5 539V540M13 538.5H15M15 537.5H17M17 536.5H34M34 537.5H36M36.5 536V537M37 535.5H39M39.5 534V535M40.5 533V534M41.5 532V533M42.5 530V532M43.5 528V530M44.5 525V528M45.5 523V525M46.5 521V523M47.5 519V521M48.5 517V519M49.5 515V517M50.5 513V515M51.5 511V513M52.5 509V511M53.5 507V509M54.5 505V507M55.5 504V505M56.5 503V504M57.5 501V503M58.5 500V501M59.5 498V500M60.5 497V498M61.5 496V497M62.5 495V496M63 494.5H65M65 493.5H70M70 494.5H72M72.5 495V496M73.5 496V497M74.5 497V498M75.5 498V499M76.5 499V500M77.5 500V501M78.5 501V502M79.5 502V503M80.5 503V504M81.5 504V505M82.5 505V506M83.5 506V507M84.5 507V508M85.5 508V509M86.5 509V510M87.5 510V511M88.5 511V512M89.5 512V513M90.5 513V514M91.5 514V515M92.5 515V516M93.5 516V517M94.5 517V518M95.5 518V519M96.5 519V520M97.5 520V521M98.5 521V522M99.5 522V523M100.5 523V524M101.5 524V525M102 525.5H104M104.5 526V527M105.5 527V528M106 528.5H108M108 529.5H111M111 530.5H114M114.5 531V532M115.5 532V533M116 533.5H118M118.5 534V535M119 535.5H122M122 536.5H125M125 537.5H130M130 538.5H133M133 537.5H136M136 536.5H140M140 535.5H147M147 534.5H149M149 533.5H151M151 532.5H153M153 531.5H155M155 530.5H157M157 529.5H159M159 528.5H162M162 527.5H164M164 526.5H166M166 525.5H180M180.5 526V527M181.5 527V528M182.5 528V529M183 529.5H185M185 530.5H187M187.5 531V532M188 532.5H190M190.5 533V534M191.5 534V535M192.5 535V536M193.5 536V537M194.5 537V538M195 538.5H197M197.5 539V540M198 540.5H209M209 539.5H213M213 538.5H215M215 537.5H224M224.5 538V539M225.5 539V540M226.5 540V541M227.5 541V542M228.5 542V543M229.5 543V544M230.5 544V545M231.5 545V546M232.5 546V547M233.5 547V548M234.5 548V549M235.5 549V551M236.5 551V552M237.5 552V553M238.5 553V554M239.5 554V555M240.5 555V556M241 556.5H243M243 557.5H245M245 558.5H256M256 557.5H259M259 556.5H261M261 555.5H263M263 554.5H265M265.5 553V554M266 552.5H268M268.5 551V552M269.5 550V551M270 549.5H272M272.5 548V549M273.5 547V548M274 546.5H277M277 545.5H283M283 546.5H288M288 545.5H291M291 544.5H293M293 543.5H295M295 542.5H297M297 541.5H299M299 540.5H301M301 539.5H303M303 538.5H305M305 537.5H313M313 536.5H323M323 535.5H327M327 534.5H334M334 533.5H338M338 534.5H340M340 535.5H342M342 536.5H344M344.5 537V538M345 538.5H347M347 539.5H349M349 540.5H354M354 539.5H371M371 540.5H373M373.5 541V542M374 542.5H376M376.5 543V544M377 544.5H379M379 545.5H381M381 546.5H383M383 547.5H386M386 548.5H393M393 549.5H395M395 550.5H397M397 551.5H399M399 552.5H401M401.5 553V554M402.5 554V555M403.5 555V556M404.5 556V557M405 557.5H407M407.5 558V559M408.5 559V560M409 560.5H411M411 561.5H413M413 562.5H415M415 563.5H418M418 564.5H429M429 563.5H433M433 562.5H436M436 561.5H439M439 560.5H442M442 559.5H445M445 558.5H448M448 557.5H452M452 556.5H454M454 555.5H456M456 554.5H458M458 553.5H460M460 552.5H462M462.5 551V552M463 550.5H465M465 549.5H467M467.5 548V549M468 547.5H470M470.5 546V547M471.5 545V546M472 544.5H474M474.5 543V544M475.5 542V543M476.5 541V542M477.5 540V541M478.5 539V540M479.5 538V539M480.5 537V538M481.5 535V537M482.5 534V535M483.5 533V534M484.5 532V533M485.5 530V532M486.5 529V530M487.5 527V529M488.5 526V527M489.5 525V526M490.5 524V525M491.5 522V524M492.5 521V522M493.5 520V521M494.5 518V520M495.5 517V518M496.5 516V517M497.5 515V516M498 514.5H500M500.5 513V514M501.5 512V513M502 511.5H504M504 510.5H507M507 509.5H515M515 510.5H518M518 511.5H520M520 512.5H522M522 513.5H524M524 514.5H526M526.5 515V516M527 516.5H529M529 517.5H531M531 518.5H533M533 519.5H535M535 520.5H537M537.5 521V522M538.5 522V524M539.5 524V525M540.5 525V526M541.5 526V528M542.5 528V529M543.5 529V531M544.5 531V532M545.5 532V534M546.5 534V536M547.5 536V538M548.5 538V540M549.5 540V541M550.5 541V543M551.5 543V544M552.5 544V546M553.5 546V547M554.5 547V548M555.5 548V549M556.5 549V550M557.5 550V551M558.5 551V552M559 552.5H561M561 553.5H565M565 554.5H570M570 553.5H573M573 552.5H575M575 551.5H577M577.5 550V551M578.5 549V550M579.5 548V549M580.5 547V548M581 546.5H583M583.5 545V546M584.5 544V545M585.5 543V544M586 542.5H588M588.5 541V542M589 540.5H591M591 539.5H595M595 538.5H609M609 539.5H613M613.5 540V541M614 541.5H616M616.5 542V543M617 543.5H619M619.5 544V545M620 545.5H622M622 546.5H624M624 547.5H628M628 548.5H637M637 547.5H640M640.5 546V547M641 545.5H643M643 544.5H645M645.5 543V544M646 542.5H648M648 541.5H650M650 540.5H652M652.5 539V540M653 538.5H663M663 539.5H666M666 540.5H668M668 541.5H684M684 540.5H688M688 539.5H712M712 540.5H716M716 541.5H719M719 542.5H735M735 541.5H740M740 540.5H743M743 539.5H746M746 538.5H748M748.5 537V538M749 536.5H751M751.5 535V536M752.5 534V535M753.5 533V534M754.5 532V533M755 531.5H757M757.5 530V531M758 529.5H760M760 528.5H769M769 529.5H771M771.5 530V531M772 531.5H774M774.5 532V533M775.5 533V534M776 534.5H778M778.5 535V536M779 536.5H781M781 537.5H784M784 538.5H788M788 537.5H790M790.5 536V537M791 535.5H793M793 534.5H796M796 533.5H799M799 532.5H809M809.5 533V534M810 534.5H812M812.5 535V536M813 536.5H815M815 537.5H817M817 538.5H823M823 537.5H826M826 536.5H829M829.5 535V536M830 534.5H832M832.5 533V534M833.5 532V533M834.5 531V532M835.5 530V531M836.5 529V530M837.5 528V529M838.5 527V528M839.5 526V527M840.5 525V526M841.5 524V525M842.5 523V524M843.5 522V523M844.5 521V522M845.5 520V521M846 519.5H849M849 518.5H856M856.5 519V520M857.5 520V521M858.5 521V522M859.5 522V523M860.5 523V524M861.5 524V525M862.5 525V526M863.5 526V527M864.5 527V529M865.5 529V530M866.5 530V531M867.5 531V532M868.5 532V533M869.5 533V535M870.5 535V536M871.5 536V537M872 537.5H874M874.5 538V539M875 539.5H877M877 540.5H879M879 541.5H881M881 542.5H906M906 541.5H910M910 540.5H914M914 539.5H917M917 538.5H920M920 537.5H923M923 536.5H925M925 535.5H927M927.5 534V535"/>
<path stroke="#1e90ff" d="M3.5 609V610M4.5 610V612M5.5 612V613M6.5 611V613M7.5 610V611M8.5 609V610M9 608.5H11M11 607.5H14M14.5 608V610M15.5 610V611M16.5 611V612M17 612.5H19M19 613.5H21M21 614.5H24M24 613.5H27M27.5 614V615M28.5 614V616M29.5 613V614M30.5 611V613M31.5 610V611M32.5 611V614M33.5 606V615M34.5 595V606M35 594.5H38M38.5 593V594M39.5 592V593M40.5 590V592M41.5 589V590M42.5 588V589M43 587.5H45M45 586.5H50M50 587.5H53M53 586.5H56M56 585.5H59M59 586.5H62M62.5 587V588M63.5 588V590M64.5 590V591M65.5 591V596M66.5 596V599M67.5 599V600M68.5 600V601M69.5 601V602M70.5 602V603M71.5 603V604M72.5 602V603M73.5 601V602M74.5 600V601M75.5 599V600M76 598.5H78M78.5 599V601M79.5 601V603M80.5 603V605M81.5 605V606M82.5 606V607M83 607.5H86M86.5 606V608M87.5 608V610M88.5 610V612M89.5 612V614M90.5 614V616M91 616.5H93M93.5 614V616M94.5 613V614M95.5 611V613M96.5 610V611M97.5 609V610M98.5 610V611M99.5 611V612M100.5 612V613M101.5 613V614M102.5 614V615M103 613.5H105M105.5 612V613M106.5 611V612M107.5 612V613M108.5 613V614M109.5 614V615M110.5 615V617M111.5 617V618M112.5 618V620M113.5 620V621M114.5 621V623M115.5 622V624M116.5 619V622M117.5 615V619M118.5 614V615M119 613.5H121M121 612.5H126M126.5 613V614M127.5 612V613M128.5 611V612M129.5 610V611M130.5 609V610M131 610.5H135M135.5 609V610M136.5 608V609M137.5 607V608M138.5 606V607M139.5 605V606M140.5 606V609M141.5 609V611M142.5 611V612M143.5 610V611M144 609.5H146M146.5 608V609M147.5 607V608M148.5 606V607M149.5 604V606M150.5 603V604M151.5 601V603M152.5 600V601M153 599.5H155M155 598.5H158M158.5 597V598M159.5 597V599M160.5 599V601M161.5 601V603M162.5 603V606M163.5 606V607M164.5 605V606M165.5 604V605M166.5 602V604M167 601.5H170M170 600.5H173M173.5 599V605M174.5 605V611M175.5 611V614M176.5 614V617M177.5 617V620M178.5 620V622M179.5 622V623M180.5 621V622M181.5 620V621M182.5 618V620M183.5 617V618M184.5 618V620M185 620.5H188M188.5 619V620M189 618.5H194M194.5 619V621M195.5 621V622M196.5 617V623M197.5 613V617M198 612.5H200M200 611.5H202M202 610.5H204M204.5 611V612M205.5 612V613M206.5 613V614M207.5 614V615M208.5 615V616M209.5 614V615M210.5 613V614M211.5 611V613M212.5 610V611M213 609.5H215M215.5 608V609M216.5 607V608M217.5 606V609M218.5 609V615M219.5 615V621M220.5 621V626M221.5 626V631M222.5 631V632M223 632.5H229M229.5 631V632M230 630.5H232M232 629.5H236M236 630.5H238M238 629.5H241M241.5 628V629M242.5 627V628M243.5 626V627M244.5 625V626M245 624.5H248M248.5 625V626M249 626.5H251M251 625.5H255M255.5 623V625M256.5 622V623M257.5 620V622M258.5 618V620M259.5 617V618M260.5 616V617M261.5 614V616M262.5 613V614M263 612.5H266M266 613.5H268M268 612.5H270M270.5 613V616M271.5 616V619M272.5 619V620M273.5 620V621M274.5 621V622M275.5 622V623M276.5 623V624M277.5 624V625M278.5 625V626M279.5 626V627M280.5 627V628M281.5 625V629M282.5 620V625M283.5 615V620M284.5 614V615M285 613.5H287M287.5 612V613M288.5 611V612M289 612.5H292M292.5 613V614M293 612.5H295M295 611.5H297M297 610.5H299M299 609.5H301M301 608.5H303M303 607.5H305M305.5 606V609M306.5 609V613M307.5 613V615M308 615.5H312M312 614.5H314M314 613.5H316M316.5 614V617M317.5 616V618M318.5 612V616M319.5 607V612M320 606.5H322M322 607.5H324M324 608.5H327M327 607.5H329M329.5 607V609M330.5 609V613M331.5 613V616M332.5 616V619M333.5 619V620M334.5 620V621M335 621.5H342M342.5 622V623M343.5 621V624M344.5 617V621M345.5 614V617M346.5 613V614M347 614.5H351M351.5 613V614M352.5 612V613M353.5 611V612M354 610.5H359M359.5 611V612M360.5 612V614M361.5 614V615M362.5 615V617M363.5 617V618M364.5 618V620M365.5 620V622M366.5 622V623M367.5 623V625M368.5 625V626M369 626.5H371M371 627.5H373M373.5 628V629M374.5 625V628M375.5 622V625M376.5 619V622M377.5 618V619M378.5 618V622M379.5 622V627M380.5 627V628M381.5 628V629M382.5 627V628M383.5 626V627M384.5 625V626M385.5 624V625M386.5 623V624M387.5 622V623M388.5 621V622M389 620.5H391M391.5 619V622M392.5 622V625M393.5 625V628M394.5 628V631M395.5 631V632M396.5 632V633M397.5 633V634M398 634.5H400M400.5 635V636M401 636.5H403M403 637.5H405M405 638.5H407M407.5 637V638M408.5 636V637M409.5 635V637M410.5 634V635M411.5 632V634M412.5 631V632M413 632.5H418M418 631.5H421M421 632.5H425M425 633.5H427M427.5 634V635M428.5 634V636M429.5 633V634M430.5 631V633M431 630.5H433M433 629.5H436M436.5 630V631M437.5 631V632M438.5 632V633M439.5 631V633M440.5 629V631M441 628.5H443M443.5 629V630M444.5 630V631M445.5 631V632M446.5 630V631M447.5 628V630M448.5 627V628M449.5 626V628M450.5 628V631M451.5 629V632M452.5 621V629M453.5 618V621M454.5 616V618M455.5 615V616M456.5 613V615M457 612.5H460M460 613.5H463M463 614.5H465M465 615.5H467M467.5 614V616M468.5 613V614M469.5 612V613M470 611.5H472M472.5 609V611M473.5 605V609M474.5 601V605M475.5 598V601M476.5 597V598M477.5 596V597M478.5 595V596M479.5 594V595M480 593.5H483M483 592.5H485M485.5 591V592M486.5 590V591M487.5 589V590M488 588.5H490M490 589.5H492M492.5 590V591M493 589.5H498M498 588.5H501M501 587.5H507M507 588.5H509M509.5 588V593M510.5 593V597M511.5 597V598M512.5 598V599M513 599.5H517M517 600.5H521M521 599.5H523M523.5 598V599M524 597.5H527M527 596.5H529M529 597.5H531M531.5 598V600M532.5 600V605M533.5 605V610M534.5 610V615M535.5 615V620M536.5 620V625M537.5 625V626M538.5 626V627M539.5 627V628M540.5 628V629M541.5 629V630M542.5 628V629M543.5 627V628M544.5 628V630M545.5 630V632M546.5 632V634M547.5 634V635M548.5 634V636M549.5 633V634M550.5 632V633M551.5 631V632M552.5 630V631M553.5 629V630M554 628.5H558M558.5 628V630M559.5 626V628M560.5 623V626M561.5 621V623M562 620.5H566M566 621.5H569M569.5 619V622M570.5 617V619M571.5 614V617M572.5 612V614M573.5 611V612M574.5 610V611M575.5 609V610M576.5 608V609M577 607.5H579M579.5 608V612M580.5 612V616M581 616.5H583M583.5 615V616M584.5 614V615M585.5 613V614M586.5 612V613M587.5 611V612M588.5 612V613M589.5 613V615M590.5 615V616M591 616.5H594M594.5 615V616M595 614.5H597M597 613.5H599M599.5 614V615M600.5 615V616M601.5 616V617M602 617.5H605M605.5 617V619M606.5 619V621M607.5 621V624M608 624.5H613M613 623.5H617M617 624.5H619M619.5 625V626M620.5 624V625M621 623.5H623M623.5 621V623M624.5 619V621M625.5 617V619M626.5 616V617M627.5 617V618M628.5 618V619M629.5 619V620M630 620.5H635M635 619.5H637M637.5 618V619M638.5 617V618M639.5 614V617M640.5 611V614M641.5 608V611M642.5 605V608M643 604.5H645M645.5 605V607M646 607.5H649M649.5 606V608M650.5 608V610M651.5 610V611M652 611.5H654M654.5 610V615M655.5 615V619M656.5 619V624M657.5 624V625M658.5 625V626M659.5 626V627M660.5 627V628M661.5 627V629M662.5 623V627M663.5 620V623M664.5 617V620M665.5 615V617M666.5 614V615M667.5 612V614M668.5 611V612M669 610.5H671M671 611.5H673M673.5 612V614M674.5 614V616M675.5 616V617M676.5 617V619M677.5 619V620M678.5 620V621M679.5 619V622M680.5 615V619M681.5 613V615M682 612.5H684M684 611.5H686M686.5 610V611M687.5 609V610M688.5 609V611M689.5 611V613M690.5 613V616M691.5 616V617M692.5 617V618M693 616.5H696M696 615.5H700M700 614.5H705M705.5 614V616M706.5 616V617M707.5 617V619M708.5 619V621M709.5 621V622M710 620.5H712M712 619.5H714M714.5 620V621M715.5 621V622M716.5 622V623M717.5 621V622M718.5 620V621M719.5 619V620M720.5 618V619M721.5 616V618M722.5 615V616M723.5 614V615M724.5 613V614M725.5 612V613M726 611.5H728M728 612.5H730M730.5 613V614M731.5 613V615M732.5 615V617M733.5 617V620M734.5 620V621M735.5 619V620M736.5 618V619M737.5 617V618M738.5 614V617M739.5 611V614M740.5 607V611M741.5 604V607M742 603.5H746M746.5 602V603M747.5 601V602M748.5 600V601M749 599.5H751M751 598.5H756M756.5 598V601M757.5 601V603M758.5 603V605M759.5 605V607M760.5 607V609M761.5 609V611M762.5 611V613M763.5 613V615M764.5 615V616M765.5 616V618M766.5 618V620M767.5 620V621M768 621.5H774M774.5 619V621M775.5 617V619M776.5 616V617M777.5 615V616M778.5 614V615M779.5 613V614M780.5 611V613M781.5 608V611M782.5 605V608M783.5 602V605M784.5 599V602M785.5 598V601M786.5 601V604M787.5 604V606M788 606.5H790M790 605.5H793M793 606.5H795M795.5 606V608M796.5 608V610M797.5 610V612M798.5 612V614M799.5 614V615M800 615.5H802M802 616.5H805M805 615.5H807M807.5 614V617M808.5 617V620M809.5 620V622M810.5 621V623M811.5 619V621M812.5 617V619M813.5 616V617M814 615.5H816M816 614.5H818M818.5 611V614M819.5 608V611M820.5 606V608M821.5 603V606M822.5 601V603M823.5 600V601M824.5 599V602M825.5 602V603M826.5 603V604M827.5 601V603M828.5 600V601M829.5 599V600M830.5 600V601M831.5 601V602M832.5 602V603M833.5 601V602M834.5 600V601M835.5 599V600M836.5 598V599M837.5 597V598M838.5 596V597M839.5 595V596M840 594.5H842M842 595.5H844M844.5 596V599M845.5 599V603M846.5 603V607M847.5 607V610M848.5 610V611M849 611.5H852M852 612.5H855M855.5 613V615M856.5 615V618M857.5 618V620M858.5 620V622M859 622.5H862M862 623.5H864M864.5 622V623M865.5 621V622M866.5 620V621M867.5 620V622M868.5 622V623M869.5 623V624M870 624.5H872M872.5 623V624M873.5 622V625M874.5 616V622M875.5 614V616M876.5 613V614M877 612.5H879M879.5 613V614M880.5 614V616M881.5 616V618M882.5 618V622M883.5 622V623M884.5 621V622M885.5 620V621M886.5 619V620M887.5 618V619M888.5 617V618M889 616.5H891M891.5 616V619M892.5 619V621M893.5 621V622M894.5 619V621M895.5 616V619M896 615.5H899M899.5 614V615M900.5 613V615M901.5 612V613M902.5 611V612M903 610.5H905M905 611.5H907M907.5 612V613M908 613.5H910M910 614.5H913M913.5 612V614M914.5 611V612M915.5 609V611M916.5 608V609M917.5 607V608M918.5 605V607M919 604.5H921M921 605.5H927"/>
</g>
<text class="ax" x="1171" y="56" textLength="33" lengthAdjust="spacingAndGlyphs">0.93280</text>
<text class="ax" x="1171" y="89" textLength="33" lengthAdjust="spacingAndGlyphs">0.92995</text>
<text class="ax" x="1171" y="155" textLength="33" lengthAdjust="spacingAndGlyphs">0.92425</text>
<text class="ax" x="1171" y="188" textLength="33" lengthAdjust="spacingAndGlyphs">0.92140</text>
<text class="ax" x="1171" y="254" textLength="33" lengthAdjust="spacingAndGlyphs">0.91565</text>
<text class="ax" x="1171" y="287" textLength="33" lengthAdjust="spacingAndGlyphs">0.91280</text>
<text class="ax" x="1171" y="320" textLength="33" lengthAdjust="spacingAndGlyphs">0.90995</text>
<text class="ax" x="1171" y="353" textLength="33" lengthAdjust="spacingAndGlyphs">0.90710</text>
<text class="ax" x="1171" y="419" textLength="33" lengthAdjust="spacingAndGlyphs">0.90140</text>
<text class="ax" x="1171" y="452" textLength="33" lengthAdjust="spacingAndGlyphs">0.89855</text>
<text class="ax" x="1171" y="485" textLength="33" lengthAdjust="spacingAndGlyphs">0.89570</text>
<g shape-rendering="crispEdges">
<rect x="1167" y="90" width="39" height="11" fill="#000000"/>
<rect x="1167" y="113" width="39" height="11" fill="#ff0000"/>
<rect x="1167" y="211" width="39" height="11" fill="#00ff00"/>
<rect x="1167" y="286" width="39" height="11" fill="#0000ff"/>
<rect x="1167" y="379" width="39" height="11" fill="#0000ff"/>
<rect x="1167" y="471" width="39" height="11" fill="#0000ff"/>
</g>
<text class="axw" x="1171" y="99" textLength="33" lengthAdjust="spacingAndGlyphs">0.92910</text>
<text class="axw" x="1171" y="122" textLength="33" lengthAdjust="spacingAndGlyphs">0.92699</text>
<text class="axw" x="1171" y="220" textLength="33" lengthAdjust="spacingAndGlyphs">0.91855</text>
<text class="axw" x="1171" y="295" textLength="33" lengthAdjust="spacingAndGlyphs">0.91208</text>
<text class="axw" x="1171" y="388" textLength="33" lengthAdjust="spacingAndGlyphs">0.90405</text>
<text class="axw" x="1171" y="480" textLength="33" lengthAdjust="spacingAndGlyphs">0.89602</text>
<text class="ax" x="1169" y="496.6" textLength="38" lengthAdjust="spacingAndGlyphs">0.006451</text>
<text class="ax" x="1169" y="545" textLength="18" lengthAdjust="spacingAndGlyphs">0.00</text>
<text class="ax" x="1169" y="567" textLength="41" lengthAdjust="spacingAndGlyphs">-0.003507</text>
<text class="ax" x="1169.5" y="582.6" textLength="14.5" lengthAdjust="spacingAndGlyphs">100</text>
<text class="ax" x="1169" y="603" textLength="10" lengthAdjust="spacingAndGlyphs">70</text>
<text class="ax" x="1169" y="637" textLength="10" lengthAdjust="spacingAndGlyphs">30</text>
<text class="ax" x="1169" y="655.6" textLength="5" lengthAdjust="spacingAndGlyphs">0</text>
<polygon points="6,35 13,35 9.5,31" fill="#000"/>
<text class="t10" x="18" y="36" textLength="55" lengthAdjust="spacingAndGlyphs">USDCHF,H4</text>
<text class="t10" x="79" y="36" textLength="141" lengthAdjust="spacingAndGlyphs">0.92909 0.92912 0.92909 0.92910</text>
<text class="t10" x="7" y="499" textLength="147.5" lengthAdjust="spacingAndGlyphs">MACD(12,26,9) 0.001070 0.000657</text>
<text class="t10" x="7" y="585" textLength="68" lengthAdjust="spacingAndGlyphs">RSI(14) 63.1495</text>
<text class="t10" style="font-size:10.4px" x="2.2" y="672" textLength="49.5" lengthAdjust="spacingAndGlyphs">14 Jun 2021</text>
<text class="t10" style="font-size:10.4px" x="66.2" y="672" textLength="52.5" lengthAdjust="spacingAndGlyphs">21 Jun 19:00</text>
<text class="t10" style="font-size:10.4px" x="130.2" y="672" textLength="53" lengthAdjust="spacingAndGlyphs">29 Jun 00:00</text>
<text class="t10" style="font-size:10.4px" x="194.2" y="672" textLength="45" lengthAdjust="spacingAndGlyphs">6 Jul 10:00</text>
<text class="t10" style="font-size:10.4px" x="258.2" y="672" textLength="49.5" lengthAdjust="spacingAndGlyphs">13 Jul 18:00</text>
<text class="t10" style="font-size:10.4px" x="322.2" y="672" textLength="49.5" lengthAdjust="spacingAndGlyphs">21 Jul 00:00</text>
<text class="t10" style="font-size:10.4px" x="386.2" y="672" textLength="49.5" lengthAdjust="spacingAndGlyphs">28 Jul 10:00</text>
<text class="t10" style="font-size:10.4px" x="450.2" y="672" textLength="50.5" lengthAdjust="spacingAndGlyphs">4 Aug 18:00</text>
<text class="t10" style="font-size:10.4px" x="514.2" y="672" textLength="56" lengthAdjust="spacingAndGlyphs">12 Aug 00:00</text>
<text class="t10" style="font-size:10.4px" x="578.2" y="672" textLength="55.5" lengthAdjust="spacingAndGlyphs">19 Aug 10:00</text>
<text class="t10" style="font-size:10.4px" x="642.2" y="672" textLength="55.5" lengthAdjust="spacingAndGlyphs">26 Aug 18:00</text>
<text class="t10" style="font-size:10.4px" x="706.2" y="672" textLength="49.5" lengthAdjust="spacingAndGlyphs">3 Sep 00:00</text>
<text class="t10" style="font-size:10.4px" x="770.2" y="672" textLength="54.5" lengthAdjust="spacingAndGlyphs">10 Sep 10:00</text>
<text class="t10" style="font-size:10.4px" x="834.2" y="672" textLength="55" lengthAdjust="spacingAndGlyphs">17 Sep 18:00</text>
<text class="t10" style="font-size:10.4px" x="898.2" y="672" textLength="55.5" lengthAdjust="spacingAndGlyphs">25 Sep 00:00</text>
<g shape-rendering="crispEdges">
<rect x="6" y="44" width="52" height="25" fill="url(#gTab)"/>
<rect x="173" y="44" width="52" height="25" fill="url(#gTab)"/>
<rect x="6" y="68" width="109" height="33" fill="url(#gLow)"/>
<rect x="117" y="68" width="108" height="33" fill="url(#gLow)"/>
<rect x="6" y="44" width="52" height="1" fill="#c01414"/><rect x="173" y="44" width="52" height="1" fill="#c01414"/>
<rect x="6" y="44" width="1" height="57" fill="#b80c0c"/><rect x="224" y="44" width="1" height="57" fill="#b80c0c"/>
<rect x="6" y="100" width="109" height="1" fill="#a00000"/><rect x="117" y="100" width="108" height="1" fill="#a00000"/>
<rect x="57" y="68" width="58" height="1" fill="#b00808"/><rect x="117" y="68" width="57" height="1" fill="#b00808"/>
<rect x="57" y="44" width="1" height="24" fill="#b80c0c"/><rect x="173" y="44" width="1" height="24" fill="#b80c0c"/>
<rect x="114" y="68" width="1" height="33" fill="#b40808"/><rect x="117" y="68" width="1" height="33" fill="#b40808"/>
<rect x="10" y="67" width="44" height="1" fill="#a01010"/><rect x="10" y="68" width="44" height="1" fill="#f49090"/>
<rect x="177" y="67" width="44" height="1" fill="#a01010"/><rect x="177" y="68" width="44" height="1" fill="#f49090"/>
<rect x="60" y="44" width="111" height="22" fill="#fff" stroke="none"/>
<rect x="60" y="44" width="111" height="1" fill="#abadb3"/><rect x="60" y="65" width="111" height="1" fill="#abadb3"/>
<rect x="60" y="44" width="1" height="22" fill="#abadb3"/><rect x="170" y="44" width="1" height="22" fill="#abadb3"/>
<rect x="62" y="46" width="18" height="18" fill="url(#gBtn)"/><rect x="81" y="45" width="1" height="20" fill="#abadb3"/>
<rect x="151" y="46" width="18" height="18" fill="url(#gBtn)"/><rect x="149" y="45" width="1" height="20" fill="#abadb3"/>
</g>
<polygon points="68,53 73,53 70.5,56" fill="#4f63c4"/>
<polygon points="157,56 162,56 159.5,53" fill="#4f63c4"/>
<text x="18.3" y="60" font-size="11.8" fill="#fff" textLength="25.6" lengthAdjust="spacingAndGlyphs">SELL</text>
<text x="186.5" y="60" font-size="12" fill="#fff" textLength="23" lengthAdjust="spacingAndGlyphs">BUY</text>
<text x="122.5" y="58.8" font-size="11.5" fill="#000" textLength="23" lengthAdjust="spacingAndGlyphs">3.00</text>
<text x="26" y="96" font-size="12" font-weight="bold" fill="#fff" textLength="23.5" lengthAdjust="spacingAndGlyphs">0.92</text>
<text x="53.7" y="96.3" font-size="34.5" fill="#fff" stroke="#c82020" stroke-width="0.5" textLength="34" lengthAdjust="spacingAndGlyphs">91</text>
<text x="93" y="80.3" font-size="12" font-weight="bold" fill="#fff">3</text>
<text x="136" y="96" font-size="12" font-weight="bold" fill="#fff" textLength="23.5" lengthAdjust="spacingAndGlyphs">0.92</text>
<text x="163.7" y="96.3" font-size="34.5" fill="#fff" stroke="#c82020" stroke-width="0.5" textLength="34" lengthAdjust="spacingAndGlyphs">92</text>
<text x="203" y="80.3" font-size="12" font-weight="bold" fill="#fff">7</text>
<g shape-rendering="crispEdges">
<rect x="0" y="680" width="1206" height="1" fill="#e3e3e3"/>
<rect x="0" y="682" width="1206" height="1" fill="#000"/>
<rect x="0" y="683" width="1206" height="20" fill="#f0f0f0"/>
<rect x="0" y="703" width="1206" height="1" fill="#fafafa"/>
<rect x="199" y="683" width="90" height="19" fill="#fff"/>
<rect x="201" y="682" width="86" height="1" fill="#fff"/>
<rect x="200" y="682" width="1" height="19" fill="#000"/><rect x="287" y="682" width="1" height="19" fill="#000"/><rect x="200" y="700" width="88" height="1" fill="#000"/>
<rect x="96" y="685" width="1" height="14" fill="#6e6e6e"/>
<rect x="392" y="685" width="1" height="14" fill="#6e6e6e"/>
<rect x="496" y="685" width="1" height="14" fill="#6e6e6e"/>
<rect x="584" y="685" width="1" height="14" fill="#6e6e6e"/>
<rect x="653" y="685" width="1" height="14" fill="#6e6e6e"/>
<rect x="728" y="685" width="1" height="14" fill="#6e6e6e"/>
<rect x="820" y="685" width="1" height="14" fill="#6e6e6e"/>
<rect x="912" y="685" width="1" height="14" fill="#6e6e6e"/>
</g>
<text class="tab" x="16" y="697" textLength="67.5" lengthAdjust="spacingAndGlyphs">EURUSD,H4</text>
<text class="tab" x="107" y="697" textLength="82" lengthAdjust="spacingAndGlyphs">AUDUSD,Daily</text>
<text class="tabA" x="210.5" y="697" textLength="66" lengthAdjust="spacingAndGlyphs">USDCHF,H4</text>
<text class="tab" x="299" y="697" textLength="81" lengthAdjust="spacingAndGlyphs">USDCAD,Daily</text>
<text class="tab" x="402.5" y="697" textLength="82" lengthAdjust="spacingAndGlyphs">USDCNH,Daily</text>
<text class="tab" x="508" y="697" textLength="64" lengthAdjust="spacingAndGlyphs">UKOil,Daily</text>
<text class="tab" x="594.5" y="697" textLength="46" lengthAdjust="spacingAndGlyphs">DJ30,H1</text>
<text class="tab" x="664.5" y="697" textLength="50.5" lengthAdjust="spacingAndGlyphs">USDX,H1</text>
<text class="tab" x="739" y="697" textLength="68.5" lengthAdjust="spacingAndGlyphs">XAUUSD,H4</text>
<text class="tab" x="832" y="697" textLength="68" lengthAdjust="spacingAndGlyphs">GBPUSD,H1</text>
<polygon points="1184,688.5 1184,694.5 1180.5,691.5" fill="#8c8c8c"/>
<polygon points="1198,688.5 1198,694.5 1201.5,691.5" fill="#8c8c8c"/>
</svg></body></html>
